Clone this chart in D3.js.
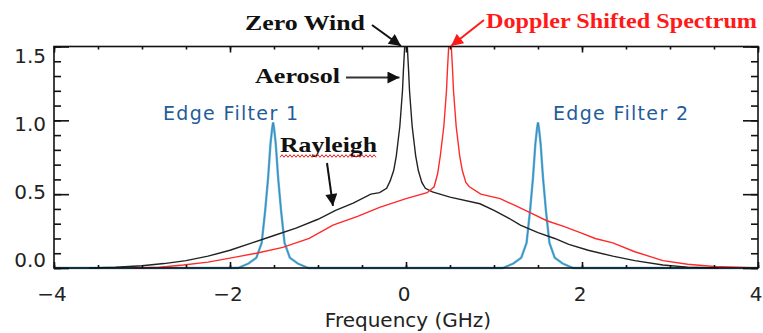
<!DOCTYPE html>
<html>
<head>
<meta charset="utf-8">
<script src="https://cdn.jsdelivr.net/npm/d3@7"></script>
<style>
  body { margin: 0; background: #fff; }
  svg { display: block; }
</style>
</head>
<body>
<div id="chart"></div>
<script>
// zero wind spectrum (Rayleigh + aerosol peak at 0 GHz)
const freqZero = [-3.6, -3.3, -3.0, -2.75, -2.5, -2.25, -2.0, -1.75, -1.5, -1.25, -1.0, -0.8, -0.6, -0.4, -0.3, -0.22, -0.18, -0.14, -0.11, -0.09, -0.07, -0.055, -0.04, -0.03, -0.015, 0, 0.015, 0.03, 0.04, 0.055, 0.07, 0.09, 0.11, 0.14, 0.18, 0.22, 0.3, 0.5, 0.84, 1.0, 1.16, 1.3, 1.5, 1.69, 1.85, 2.07, 2.35, 2.6, 2.92, 3.2, 3.55];
const valZero = [0, 0.005, 0.015, 0.03, 0.05, 0.08, 0.12, 0.17, 0.22, 0.27, 0.33, 0.39, 0.44, 0.5, 0.51, 0.54, 0.59, 0.66, 0.76, 0.86, 0.96, 1.08, 1.2, 1.33, 1.5, 1.62, 1.5, 1.33, 1.2, 1.08, 0.96, 0.86, 0.76, 0.66, 0.58, 0.54, 0.515, 0.48, 0.435, 0.39, 0.34, 0.29, 0.24, 0.2, 0.16, 0.12, 0.08, 0.05, 0.02, 0.006, 0];

// doppler shifted spectrum
const freqShift = [-3.1, -2.8, -2.53, -2.25, -1.97, -1.7, -1.4, -1.1, -0.83, -0.55, -0.3, 0, 0.24, 0.32, 0.36, 0.39, 0.41, 0.43, 0.445, 0.46, 0.47, 0.485, 0.5, 0.515, 0.53, 0.54, 0.555, 0.57, 0.59, 0.61, 0.64, 0.68, 0.72, 0.85, 1.07, 1.25, 1.41, 1.6, 1.8, 1.98, 2.15, 2.35, 2.6, 2.92, 3.2, 3.5, 4.0];
const valShift = [0, 0.005, 0.02, 0.04, 0.07, 0.1, 0.14, 0.2, 0.29, 0.35, 0.41, 0.47, 0.51, 0.55, 0.64, 0.76, 0.86, 0.96, 1.08, 1.2, 1.33, 1.5, 1.62, 1.5, 1.33, 1.2, 1.08, 0.96, 0.86, 0.76, 0.66, 0.58, 0.55, 0.5, 0.47, 0.42, 0.375, 0.32, 0.28, 0.24, 0.2, 0.17, 0.11, 0.05, 0.025, 0.01, 0];

// the two edge filters
const freqFilter = [-4, -1.91, -1.79, -1.7, -1.64, -1.6, -1.567, -1.54, -1.52, -1.51, -1.5, -1.48, -1.453, -1.42, -1.38, -1.32, -1.23, -1.11, 1.1, 1.22, 1.31, 1.37, 1.41, 1.443, 1.47, 1.49, 1.5, 1.51, 1.53, 1.557, 1.59, 1.63, 1.69, 1.78, 1.9, 4];
const valFilter = [0, 0, 0.03, 0.07, 0.17, 0.39, 0.61, 0.84, 0.95, 0.985, 0.95, 0.84, 0.61, 0.39, 0.17, 0.07, 0.03, 0, 0, 0.03, 0.07, 0.17, 0.39, 0.61, 0.84, 0.95, 0.985, 0.95, 0.84, 0.61, 0.39, 0.17, 0.07, 0.03, 0, 0];

const xMajor = [-4, -2, 0, 2, 4];
const xLabels = ['\u22124', '\u22122', '0', '2', '4'];
const yMajor = [0, 0.5, 1.0, 1.5];
const yLabels = ['0.0', '0.5', '1.0', '1.5'];

const COLOR_ZERO = '#222';
const COLOR_SHIFT = '#ff2a2a';
const COLOR_FILTER = '#5ab2dc';
const COLOR_FILTER_DARK = '#1f5f8f';
const COLOR_EDGE_TEXT = '#1f5c9a';

const W = 763, H = 333;
const m = { top: 46.5, right: 5, bottom: 65, left: 54 };

const svg = d3.select('#chart').append('svg').attr('width', W).attr('height', H);

const x = d3.scaleLinear().domain([-4, 4]).range([m.left, W - m.right]);
const y = d3.scaleLinear().domain([0, 1.5]).range([H - m.bottom, m.top]);
// IDL pushes the end labels inside the frame
const yLab = d3.scaleLinear().domain([0, 1.5]).range([H - m.bottom - 8, m.top + 9]);

svg.append('clipPath').attr('id', 'plot')
	.append('rect')
	.attr('x', m.left).attr('y', m.top)
	.attr('width', x(4) - x(-4)).attr('height', y(0) - y(1.5) + 2);

const line = d3.line().x((d) => x(d[0])).y((d) => y(d[1]));
const zip = (a, b) => a.map((v, i) => [v, b[i]]);

const g = svg.append('g').attr('clip-path', 'url(#plot)');

g.append('path').datum(zip(freqFilter, valFilter))
	.attr('d', line).attr('fill', 'none')
	.attr('stroke', COLOR_FILTER).attr('stroke-width', 2.4);
g.append('path').datum(zip(freqFilter, valFilter))
	.attr('d', line).attr('fill', 'none')
	.attr('stroke', COLOR_FILTER_DARK).attr('stroke-width', 0.8).attr('opacity', 0.6);
g.append('path').datum(zip(freqZero, valZero))
	.attr('d', line).attr('fill', 'none')
	.attr('stroke', COLOR_ZERO).attr('stroke-width', 1.4);
g.append('path').datum(zip(freqShift, valShift))
	.attr('d', line).attr('fill', 'none')
	.attr('stroke', COLOR_SHIFT).attr('stroke-width', 1.4);

// ticks on all four sides, pointing inward
const minorX = d3.range(-4, 4.01, 0.5);
const minorY = d3.range(0, 1.51, 0.1);
const axes = [
	[d3.axisBottom(x).tickValues(minorX).tickSize(-3), 'translate(0,' + y(0) + ')'],
	[d3.axisBottom(x).tickValues(xMajor).tickSize(-6), 'translate(0,' + y(0) + ')'],
	[d3.axisTop(x).tickValues(minorX).tickSize(-3), 'translate(0,' + y(1.5) + ')'],
	[d3.axisTop(x).tickValues(xMajor).tickSize(-6), 'translate(0,' + y(1.5) + ')'],
	[d3.axisLeft(y).tickValues(minorY).tickSize(-7), 'translate(' + x(-4) + ',0)'],
	[d3.axisLeft(y).tickValues(yMajor).tickSize(-15), 'translate(' + x(-4) + ',0)'],
	[d3.axisRight(y).tickValues(minorY).tickSize(-7), 'translate(' + x(4) + ',0)'],
	[d3.axisRight(y).tickValues(yMajor).tickSize(-15), 'translate(' + x(4) + ',0)']
];
axes.forEach(([ax, tr]) => {
	const a = svg.append('g').attr('transform', tr).call(ax.tickFormat(''));
	a.select('.domain').remove();
	a.selectAll('line').attr('stroke', '#111').attr('stroke-width', 1.6);
});

svg.append('rect')
	.attr('x', x(-4)).attr('y', y(1.5))
	.attr('width', x(4) - x(-4)).attr('height', y(0) - y(1.5))
	.attr('fill', 'none').attr('stroke', '#111').attr('stroke-width', 1.6);

const tickFont = "'DejaVu Sans', sans-serif";

svg.selectAll('.ylab').data(yMajor).enter().append('text')
	.attr('class', 'ylab')
	.attr('x', x(-4) - 8)
	.attr('y', (d) => yLab(d))
	.attr('dy', '0.36em')
	.attr('text-anchor', 'end')
	.attr('font-family', tickFont).attr('font-size', 20).attr('fill', '#222')
	.text((d, i) => yLabels[i]);

svg.selectAll('.xlab').data(xMajor).enter().append('text')
	.attr('class', 'xlab')
	.attr('x', (d) => x(d) - 2)
	.attr('y', y(0) + 33)
	.attr('text-anchor', 'middle')
	.attr('font-family', tickFont).attr('font-size', 20).attr('fill', '#222')
	.text((d, i) => xLabels[i]);

svg.append('text')
	.attr('x', (x(-4) + x(4)) / 2 + 2).attr('y', H - 6)
	.attr('text-anchor', 'middle')
	.attr('font-family', tickFont).attr('font-size', 20).attr('fill', '#222')
	.text('Frequency (GHz)');

// edge filter labels
const edgeText = (label, x0, w) => svg.append('text')
	.attr('x', x0).attr('y', 120)
	.attr('font-family', tickFont).attr('font-size', 19).attr('fill', COLOR_EDGE_TEXT)
	.attr('textLength', w).attr('lengthAdjust', 'spacing')
	.text(label);
edgeText('Edge Filter 1', 163, 135);
edgeText('Edge Filter 2', 553, 135);

// bold serif annotations with arrows
const defs = svg.append('defs');
const marker = (id, color) => defs.append('marker')
	.attr('id', id).attr('viewBox', '0 0 10 10')
	.attr('refX', 10).attr('refY', 5)
	.attr('markerWidth', 13).attr('markerHeight', 12)
	.attr('markerUnits', 'userSpaceOnUse')
	.attr('orient', 'auto')
	.append('path').attr('d', 'M0,0L10,5L0,10Z').attr('fill', color);
marker('arrowK', '#111');
marker('arrowR', '#ff1a1a');

const note = (label, x0, yb, w, color) => svg.append('text')
	.attr('x', x0).attr('y', yb)
	.attr('font-family', "'Liberation Serif', 'Times New Roman', serif")
	.attr('font-weight', 'bold').attr('font-size', 21).attr('fill', color)
	.attr('textLength', w).attr('lengthAdjust', 'spacingAndGlyphs')
	.text(label);

const arrow = (x1, y1, x2, y2, color, id) => svg.append('line')
	.attr('x1', x1).attr('y1', y1).attr('x2', x2).attr('y2', y2)
	.attr('stroke', color).attr('stroke-width', 2)
	.attr('marker-end', 'url(#' + id + ')');

note('Zero Wind', 245, 30, 120, '#111');
arrow(372, 25, x(0) - 5, y(1.5) - 0.5, '#111', 'arrowK');

note('Doppler Shifted Spectrum', 486, 28, 271, '#ff1a1a');
arrow(484, 20, x(0.5) + 1, y(1.5) - 0.5, '#ff1a1a', 'arrowR');

note('Aerosol', 255, 83, 85, '#111');
arrow(346, y(1.29), x(-0.04) - 3, y(1.29), '#333', 'arrowK');

const ray = note('Rayleigh', 280, 152, 97, '#111');
arrow(327, 163, x(-0.83), y(0.42), '#111', 'arrowK');

// red spell-check squiggle under "Rayleigh"
const sq = d3.range(280, 378, 2).map((px, i) => [px, 156 + (i % 2 ? -1.3 : 1.3)]);
svg.append('path').attr('d', d3.line()(sq))
	.attr('fill', 'none').attr('stroke', '#e02020').attr('stroke-width', 1);
</script>
</body>
</html>
